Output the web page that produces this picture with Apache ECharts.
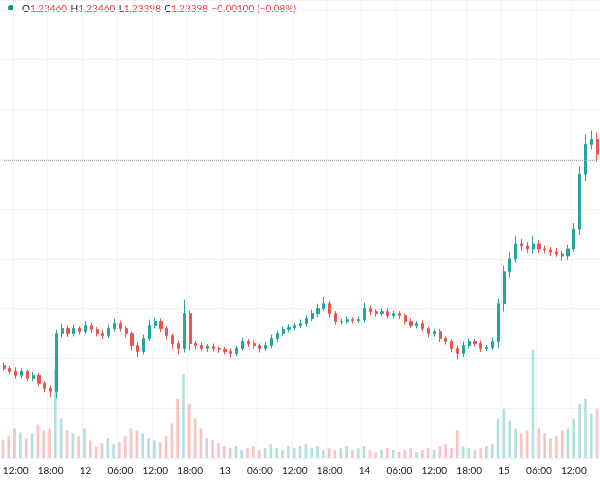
<!DOCTYPE html>
<html><head><meta charset="utf-8">
<script src="https://cdn.jsdelivr.net/npm/echarts@6/dist/echarts.min.js"></script>
<style>html,body{margin:0;padding:0;background:#fff}#c{width:600px;height:480px}</style>
</head><body><div id="c"></div>
<script>
// hourly candles, starting 11th 10:00
var startDay = 11, startHour = 10;
var closes = [1.2298,1.22974,1.22966,1.22974,1.2296,1.22966,1.2295,1.2294,1.22934,1.2305,
  1.2306,1.2305,1.2306,1.23054,1.23066,1.23058,1.2305,1.23046,1.2306,1.2307,
  1.2306,1.2305,1.23026,1.23014,1.2304,1.23066,1.23074,1.2306,1.23046,1.2303,
  1.2302,1.2309,1.2303,1.23026,1.2302,1.23024,1.2302,1.23018,1.23014,1.2301,
  1.2302,1.23034,1.2303,1.23026,1.2302,1.23026,1.2304,1.2305,1.23058,1.23062,
  1.23066,1.2307,1.2308,1.2309,1.231,1.2311,1.2309,1.23074,1.23074,1.23078,
  1.23076,1.23078,1.231,1.23094,1.2309,1.23094,1.23086,1.2309,1.23086,1.23074,
  1.23066,1.2307,1.2306,1.2305,1.23054,1.2304,1.23034,1.2302,1.2301,1.23026,
  1.23034,1.2303,1.2302,1.23022,1.23034,1.2311,1.23174,1.232,1.2323,1.23226,
  1.2322,1.2323,1.2322,1.23218,1.23214,1.2321,1.23206,1.2322,1.2326,1.2337,
  1.2343,1.2344,1.2341];
var firstOpen = 1.22986;
var lastPrice = 1.23398;
// wick sizes above / below body, in 0.00001 units
var wickUp = [6,5,8,6,4,7,5,4,5,8, 10,6,8,5,9,6,5,7,8,10, 6,5,4,6,8,12,8,6,5,4,
  6,28,6,5,6,5,6,4,5,6, 6,8,5,6,4,7,8,6,6,7, 5,8,7,8,10,14,6,5,6,7,
  5,6,12,6,5,6,7,6,5,4, 6,5,6,4,6,5,4,5,6,8, 6,5,6,5,8,10,12,14,16,10,
  8,16,8,7,6,8,6,8,12,16, 20,18,14];
var wickDn = [5,6,7,6,6,5,6,8,12,14, 8,7,6,6,5,7,6,7,5,6, 6,8,10,12,6,5,6,7,8,10,
  12,8,14,8,6,7,6,7,6,8, 6,5,7,6,8,5,6,7,5,6, 6,5,6,5,7,5,8,6,6,5,
  6,5,6,7,6,5,6,6,7,6, 5,6,6,8,6,7,6,8,12,7, 6,6,7,6,5,14,16,12,8,10,
  8,10,8,7,8,6,10,8,6,12, 14,10,16];
var volumes = [18,22,30,26,20,25,34,28,30,90, 40,28,25,22,30,18,12,15,20,14,
  16,22,30,28,25,20,18,16,22,35, 60,85,55,40,30,20,18,15,12,10,
  12,8,10,12,8,10,14,10,8,12, 10,12,14,10,12,8,10,8,10,12,
  8,10,12,8,6,8,10,8,6,8, 10,6,8,10,8,12,14,10,28,12,
  10,8,10,12,14,40,50,38,30,25, 28,110,30,25,20,22,28,30,40,55,
  60,45,50];

var categories = [];
for (var i = 0; i < closes.length; i++) {
  var h = startHour + i;
  var d = startDay + Math.floor(h / 24);
  h = h % 24;
  categories.push(h === 0 ? String(d) : (h < 10 ? '0' + h : h) + ':00');
}
var candles = [], volData = [];
for (var i = 0; i < closes.length; i++) {
  var o = i === 0 ? firstOpen : closes[i - 1], c = closes[i];
  var hi = Math.max(o, c) + wickUp[i] * 0.00001;
  var lo = Math.min(o, c) - wickDn[i] * 0.00001;
  candles.push([o, c, lo, hi]);
  volData.push({value: volumes[i], itemStyle: {color: c >= o ? 'rgba(38,166,154,0.35)' : 'rgba(239,83,80,0.35)'}});
}

var chart = echarts.init(document.getElementById('c'));
var showLabel = function (idx, val) { return val.length <= 2 || /^(00|06|12|18):00$/.test(val); };
chart.setOption({
  animation: false,
  grid: [
    {left: -5, right: -5, top: 0, bottom: 22},
    {left: -5, right: -5, top: 330, bottom: 22}
  ],
  xAxis: [
    {type: 'category', data: categories, gridIndex: 0,
     axisLine: {show: false}, axisTick: {show: false},
     axisLabel: {interval: showLabel, color: '#131722', fontSize: 10, fontFamily: 'Lato', margin: 8},
     splitLine: {show: true, interval: showLabel, lineStyle: {color: '#f0f3fa'}}},
    {type: 'category', data: categories, gridIndex: 1, show: false}
  ],
  yAxis: [
    {gridIndex: 0, min: 1.228, max: 1.2372, interval: 0.001, axisLabel: {show: false},
     axisLine: {show: false}, axisTick: {show: false},
     splitLine: {lineStyle: {color: '#f0f3fa'}}},
    {gridIndex: 1, min: 0, max: 130, show: false, splitLine: {show: false}}
  ],
  series: [
    {type: 'bar', xAxisIndex: 1, yAxisIndex: 1, data: volData, barWidth: '45%'},
    {type: 'candlestick', data: candles, barWidth: '45%',
     itemStyle: {color: '#26a69a', color0: '#ef5350', borderColor: '#26a69a', borderColor0: '#ef5350'},
     markLine: {symbol: 'none', silent: true, label: {show: false},
       lineStyle: {color: '#9aa0ab', type: 'dotted', width: 1},
       data: [[{coord: [0, lastPrice]}, {coord: [categories.length - 1, lastPrice]}]]}}
  ],
  graphic: [
    {type: 'circle', left: 8, top: 5, shape: {r: 3}, style: {fill: '#089981'}},
    {type: 'text', left: 22, top: 3, style: {
      text: '{k|O}{v|1.23460} {k|H}{v|1.23460} {k|L}{v|1.23398} {k|C}{v|1.23398} {v|−0.00100 (−0.08%)}',
      rich: {k: {fill: '#131722', fontSize: 10, fontFamily: 'Lato'}, v: {fill: '#f23645', fontSize: 10, fontFamily: 'Lato'}}}}
  ]
});
</script></body></html>
